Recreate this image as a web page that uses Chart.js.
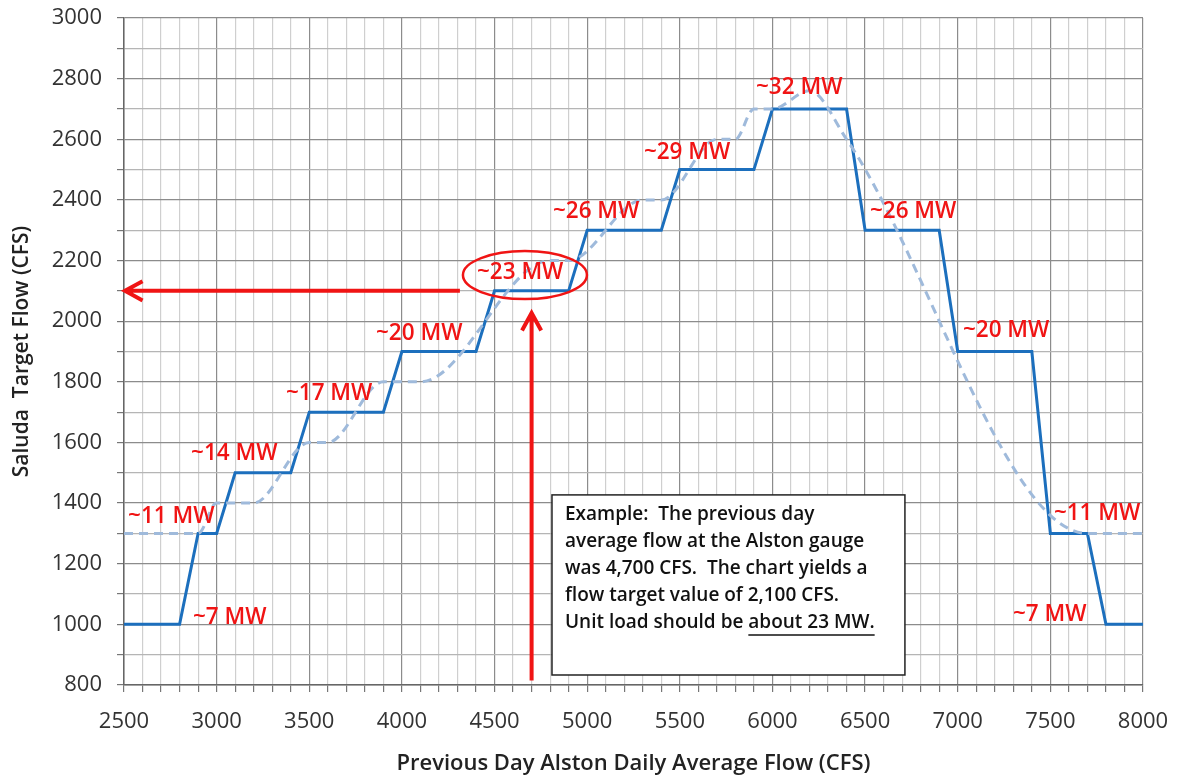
<!DOCTYPE html>
<html lang="en">

<head>
  <meta charset="UTF-8" />
  <title>Saluda Target Flow</title>
  <style>
    body { margin: 0; background: #fff; }
  </style>
</head>

<body>

  <div style="width: 1178px; height: 781px;">
    <canvas id="myChart"></canvas>
  </div>

  <script src="https://cdn.jsdelivr.net/npm/chart.js"></script>

  <script>
    // step schedule (solid blue)
    const stepFlow = [2500, 2800, 2900, 3000, 3100, 3400, 3500, 3900, 4000, 4400, 4500, 4900, 5000, 5400,
      5500, 5900, 6000, 6400, 6500, 6900, 7000, 7400, 7500, 7700, 7800, 8000];
    const stepTarget = [1000, 1000, 1300, 1300, 1500, 1500, 1700, 1700, 1900, 1900, 2100, 2100, 2300, 2300,
      2500, 2500, 2700, 2700, 2300, 2300, 1900, 1900, 1300, 1300, 1000, 1000];

    // original curve (dashed light blue)
    const refFlow = [2500, 2900, 3000, 3200, 3500, 3600, 3900, 4100, 4800, 4900, 5300, 5400, 5700, 5800,
      5900, 6000, 6200, 6400, 7700, 8000];
    const refTarget = [1300, 1300, 1400, 1400, 1600, 1600, 1800, 1800, 2200, 2200, 2400, 2400, 2600, 2600,
      2700, 2700, 2760, 2600, 1300, 1300];

    // MW labels (left edge flow, middle target)
    const mwText = ['~7 MW', '~11 MW', '~14 MW', '~17 MW', '~20 MW', '~23 MW', '~26 MW', '~29 MW', '~32 MW',
      '~26 MW', '~20 MW', '~11 MW', '~7 MW'];
    const mwFlow = [2872, 2522, 2862, 3374, 3860, 4405, 4815, 5306, 5911, 6526, 7028, 7519, 7298];
    const mwTarget = [1021, 1354, 1562, 1760, 1958, 2159, 2360, 2555, 2772, 2360, 1968, 1367, 1031];

    // example reading
    const exampleFlow = 4700;
    const exampleTarget = 2100;

    const noteLines = [
      'Example:  The previous day',
      'average flow at the Alston gauge',
      'was 4,700 CFS.  The chart yields a',
      'flow target value of 2,100 CFS.',
      'Unit load should be '
    ];
    const noteUnderlined = 'about 23 MW.';

    const FONT = 'Open Sans';
    const RED = '#f01414';

    function arrow(ctx, x1, y1, x2, y2) {
      const a = Math.atan2(y2 - y1, x2 - x1);
      const len = 20, spread = 0.5;
      ctx.beginPath();
      ctx.moveTo(x1, y1);
      ctx.lineTo(x2, y2);
      ctx.moveTo(x2 - len * Math.cos(a - spread), y2 - len * Math.sin(a - spread));
      ctx.lineTo(x2, y2);
      ctx.lineTo(x2 - len * Math.cos(a + spread), y2 - len * Math.sin(a + spread));
      ctx.stroke();
    }

    const notes = {
      id: 'notes',
      afterDatasetsDraw(chart) {
        const { ctx, scales: { x, y } } = chart;
        ctx.save();

        // arrows
        ctx.strokeStyle = RED;
        ctx.lineWidth = 4;
        ctx.lineCap = 'butt';
        ctx.lineJoin = 'miter';
        arrow(ctx, x.getPixelForValue(4313), y.getPixelForValue(exampleTarget),
          x.getPixelForValue(2500) + 1, y.getPixelForValue(exampleTarget));
        arrow(ctx, x.getPixelForValue(exampleFlow), y.getPixelForValue(815),
          x.getPixelForValue(exampleFlow), y.getPixelForValue(2027));

        // ellipse round the 23 MW step
        ctx.lineWidth = 2.5;
        ctx.beginPath();
        ctx.ellipse(x.getPixelForValue(4664), y.getPixelForValue(2152), 62, 24, 0, 0, Math.PI * 2);
        ctx.stroke();

        // MW labels
        ctx.fillStyle = RED;
        ctx.font = '600 22.5px "' + FONT + '"';
        ctx.textAlign = 'left';
        ctx.textBaseline = 'middle';
        mwText.forEach((t, i) => {
          ctx.fillText(t, x.getPixelForValue(mwFlow[i]), y.getPixelForValue(mwTarget[i]));
        });

        // example box
        const bx = x.getPixelForValue(4810), by = y.getPixelForValue(1427);
        const bw = x.getPixelForValue(6715) - bx, bh = y.getPixelForValue(833) - by;
        ctx.fillStyle = '#fff';
        ctx.fillRect(bx, by, bw, bh);
        ctx.strokeStyle = '#222';
        ctx.lineWidth = 1.5;
        ctx.strokeRect(bx, by, bw, bh);

        ctx.fillStyle = '#111';
        ctx.font = '600 19px "' + FONT + '"';
        noteLines.forEach((t, i) => {
          ctx.fillText(t, bx + 13, by + 20 + i * 27);
        });
        const last = by + 20 + 4 * 27;
        const ux = bx + 13 + ctx.measureText(noteLines[4]).width;
        ctx.fillText(noteUnderlined, ux, last);
        ctx.strokeStyle = '#111';
        ctx.lineWidth = 1.5;
        ctx.beginPath();
        ctx.moveTo(ux, last + 12);
        ctx.lineTo(ux + ctx.measureText(noteUnderlined).width, last + 12);
        ctx.stroke();

        ctx.restore();
      }
    };

    const toPoints = (xs, ys) => xs.map((v, i) => ({ x: v, y: ys[i] }));

    const context = document.getElementById('myChart').getContext('2d');
    const myChart = new Chart(context, {
      type: 'line',
      data: {
        datasets: [
          {
            label: 'Original',
            data: toPoints(refFlow, refTarget),
            borderColor: '#9fbadb',
            borderWidth: 3,
            borderDash: [9, 6],
            pointRadius: 0,
            cubicInterpolationMode: 'monotone',
            fill: false
          },
          {
            label: 'Target',
            data: toPoints(stepFlow, stepTarget),
            borderColor: '#1c6fbd',
            borderWidth: 3,
            pointRadius: 0,
            tension: 0,
            fill: false
          }
        ]
      },
      options: {
        responsive: true,
        maintainAspectRatio: false,
        animation: false,
        layout: { padding: { left: 0, right: 35, top: 18, bottom: 0 } },
        plugins: {
          legend: { display: false },
          tooltip: { enabled: false }
        },
        scales: {
          x: {
            type: 'linear',
            min: 2500,
            max: 8000,
            afterFit: (s) => { s.height = 96; s.paddingLeft = 0; s.paddingRight = 0; },
            ticks: {
              stepSize: 100,
              autoSkip: false,
              maxRotation: 0,
              padding: 17,
              color: '#333',
              font: { family: FONT, size: 22 },
              callback: (v) => (v % 500 === 0 ? String(v) : '')
            },
            grid: {
              color: (c) => (c.tick.value % 500 === 0 ? '#8c8c8c' : '#cfcfcf'),
              lineWidth: 1.2,
              tickLength: 7,
              tickColor: '#777'
            },
            border: { color: '#666', width: 1.5 },
            title: {
              display: true,
              text: 'Previous Day Alston Daily Average Flow (CFS)',
              color: '#222',
              font: { family: FONT, size: 22, weight: '600' },
              padding: { top: 2 }
            }
          },
          y: {
            min: 800,
            max: 3000,
            afterFit: (s) => { s.width = 124; s.paddingTop = 0; s.paddingBottom = 0; },
            ticks: {
              stepSize: 100,
              autoSkip: false,
              padding: 15,
              color: '#333',
              font: { family: FONT, size: 22 },
              callback: (v) => (v % 200 === 0 ? String(v) : '')
            },
            grid: {
              color: (c) => (c.tick.value % 200 === 0 ? '#8c8c8c' : '#b5b5b5'),
              lineWidth: 1.2,
              tickLength: 7,
              tickColor: '#777'
            },
            border: { color: '#666', width: 1.5 },
            title: {
              display: true,
              text: 'Saluda  Target Flow (CFS)',
              color: '#222',
              font: { family: FONT, size: 21, weight: '600' },
              padding: { top: 9, bottom: 0 }
            }
          }
        }
      },
      plugins: [notes]
    });
  </script>

</body>
</html>
